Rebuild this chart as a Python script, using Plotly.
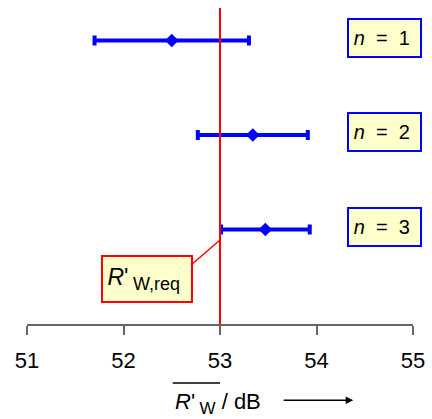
import plotly.graph_objects as go

labels = ["n = 1", "n = 2", "n = 3"]
ypos = [3, 2, 1]
means = [52.50, 53.34, 53.47]
err_plus = [0.80, 0.57, 0.46]
err_minus = [0.80, 0.57, 0.46]
r_req = 53.0
xticks = [51, 52, 53, 54, 55]

FONT = "Arial, Liberation Sans, sans-serif"
fig = go.Figure()

fig.add_trace(go.Scatter(
    x=means, y=ypos, mode="markers",
    marker=dict(symbol="diamond", size=10.5, color="#0000FF"),
    error_x=dict(type="data", array=err_plus, arrayminus=err_minus, symmetric=False,
                 color="#0000FF", thickness=4, width=5),
    showlegend=False, hoverinfo="skip"))

# red requirement line
fig.add_shape(type="line", x0=r_req, x1=r_req, y0=0, y1=1, xref="x", yref="paper",
              line=dict(color="#FF0000", width=2))

# n labels
for lab, y in zip(labels, ypos):
    n, eq, num = lab.split(" ")
    fig.add_annotation(x=54.70, y=y + 0.03, xref="x", yref="y",
                       text=f"<i>{n}</i>&nbsp; {eq} &nbsp;{num}&nbsp;", showarrow=False,
                       font=dict(family=FONT, size=20, color="black"),
                       bgcolor="#FFFFCC", bordercolor="#0000FF", borderwidth=2,
                       width=69, height=34, borderpad=1)

# R'W,req label
fig.add_annotation(x=52.24, y=0.48, xref="x", yref="y",
                   text="<i>R</i>'\u2009<sub><span style='font-size:18px'>W,req</span></sub>&nbsp;",
                   showarrow=False,
                   font=dict(family=FONT, size=23, color="black"),
                   bgcolor="#FFFFCC", bordercolor="#FF0000", borderwidth=2,
                   width=86, height=42, borderpad=1)
fig.add_shape(type="line", x0=52.70, y0=0.624, x1=r_req, y1=0.889, xref="x", yref="y",
              line=dict(color="#FF0000", width=1.5))

# axis title with overline and arrow
fig.add_annotation(x=52.98, y=-0.25, xref="x", yref="paper",
                   text="<i>R</i>'\u2009<sub><span style='font-size:17px'>W</span></sub> / dB",
                   showarrow=False,
                   font=dict(family=FONT, size=22, color="black"), yanchor="middle")
fig.add_shape(type="line", x0=52.51, x1=53.0, y0=-0.187, y1=-0.187, xref="x", yref="paper",
              line=dict(color="black", width=1.5))
fig.add_annotation(x=54.38, y=-0.241, ax=-71, ay=0, xref="x", yref="paper",
                   axref="pixel", ayref="pixel", text="", showarrow=True,
                   arrowhead=2, arrowsize=1, arrowwidth=1.5, arrowcolor="black")

fig.update_layout(
    width=432, height=419,
    margin=dict(l=27, r=19, t=8, b=95),
    plot_bgcolor="white", paper_bgcolor="white",
    xaxis=dict(range=[51, 55], tickvals=xticks, ticktext=[str(t) for t in xticks],
               showgrid=False, zeroline=False, showline=True, linecolor="#666666",
               linewidth=1.5, ticks="outside", ticklen=9, tickwidth=1.5, tickcolor="#666666",
               tickfont=dict(family=FONT, size=22, color="black"), ticklabelstandoff=7),
    yaxis=dict(range=[0, 3.344], visible=False, showgrid=False, zeroline=False),
)

fig.write_html("out.html")
